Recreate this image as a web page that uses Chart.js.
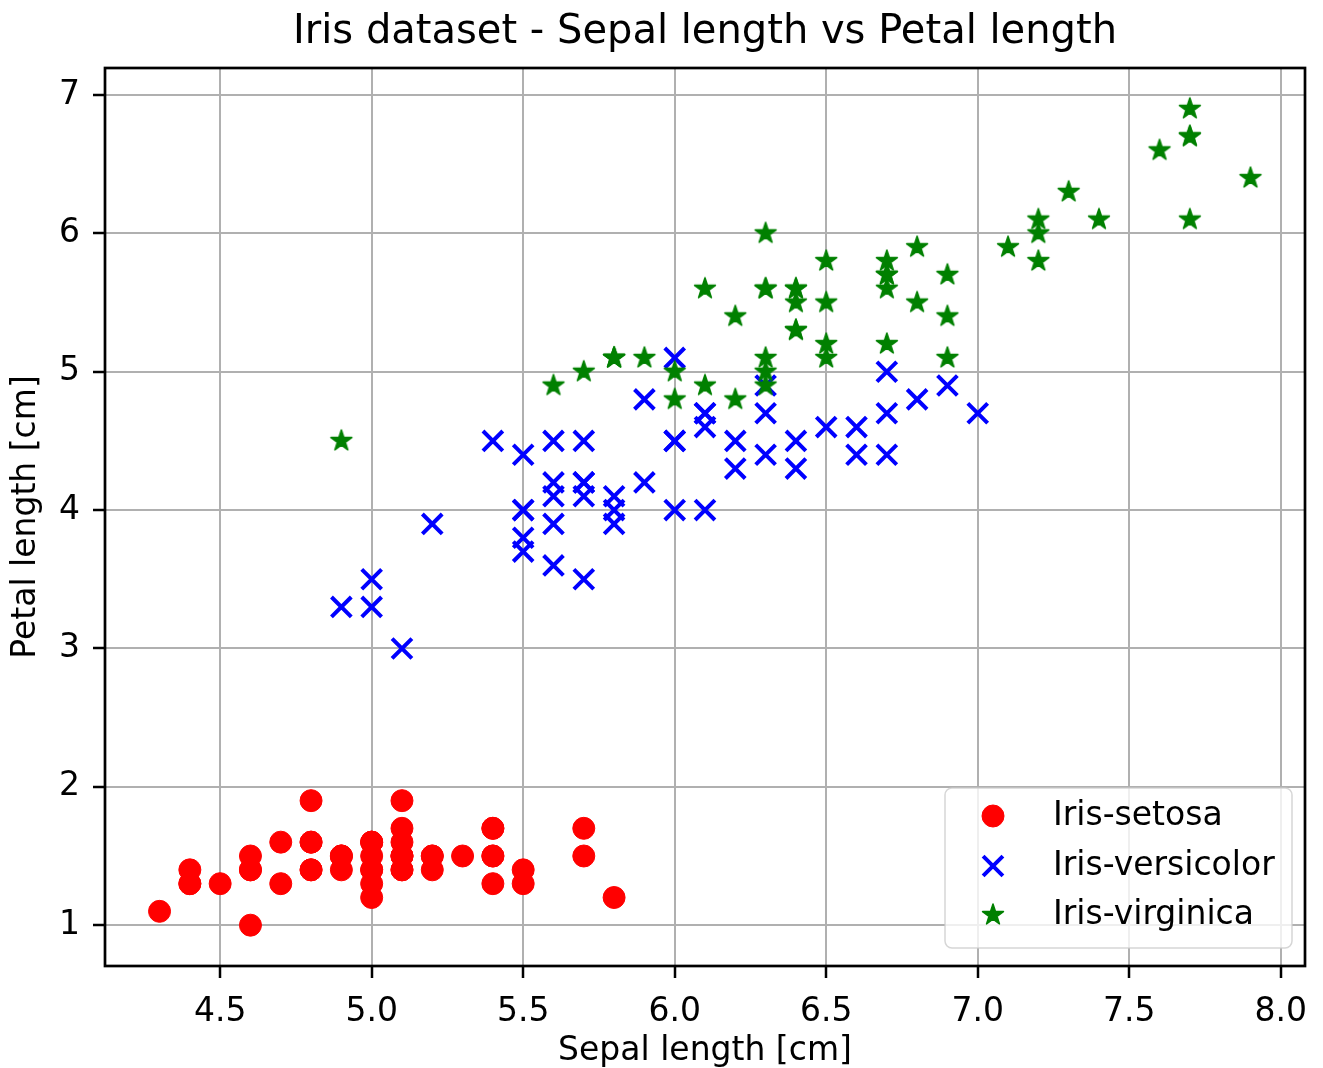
<!DOCTYPE html>
<html>
<head>
<meta charset="utf-8">
<title>Iris dataset - Sepal length vs Petal length</title>
<script src="https://cdn.jsdelivr.net/npm/chart.js@4.4.1/dist/chart.umd.min.js"></script>
<style>
  html, body { margin: 0; padding: 0; background: #fff; }
  canvas { display: block; }
</style>
</head>
<body>
<canvas id="irisChart" width="1323" height="1068"></canvas>
<script>
// Iris data: sepal length (x) and petal length (y) per class
const setosaX = [5.1, 4.9, 4.7, 4.6, 5.0, 5.4, 4.6, 5.0, 4.4, 4.9, 5.4, 4.8, 4.8, 4.3, 5.8, 5.7, 5.4, 5.1, 5.7, 5.1,
                 5.4, 5.1, 4.6, 5.1, 4.8, 5.0, 5.0, 5.2, 5.2, 4.7, 4.8, 5.4, 5.2, 5.5, 4.9, 5.0, 5.5, 4.9, 4.4, 5.1,
                 5.0, 4.5, 4.4, 5.0, 5.1, 4.8, 5.1, 4.6, 5.3, 5.0];
const setosaY = [1.4, 1.4, 1.3, 1.5, 1.4, 1.7, 1.4, 1.5, 1.4, 1.5, 1.5, 1.6, 1.4, 1.1, 1.2, 1.5, 1.3, 1.4, 1.7, 1.5,
                 1.7, 1.5, 1.0, 1.7, 1.9, 1.6, 1.6, 1.5, 1.4, 1.6, 1.6, 1.5, 1.5, 1.4, 1.5, 1.2, 1.3, 1.5, 1.3, 1.5,
                 1.3, 1.3, 1.3, 1.6, 1.9, 1.4, 1.6, 1.4, 1.5, 1.4];

const versicolorX = [7.0, 6.4, 6.9, 5.5, 6.5, 5.7, 6.3, 4.9, 6.6, 5.2, 5.0, 5.9, 6.0, 6.1, 5.6, 6.7, 5.6, 5.8, 6.2, 5.6,
                     5.9, 6.1, 6.3, 6.1, 6.4, 6.6, 6.8, 6.7, 6.0, 5.7, 5.5, 5.5, 5.8, 6.0, 5.4, 6.0, 6.7, 6.3, 5.6, 5.5,
                     5.5, 6.1, 5.8, 5.0, 5.6, 5.7, 5.7, 6.2, 5.1, 5.7];
const versicolorY = [4.7, 4.5, 4.9, 4.0, 4.6, 4.5, 4.7, 3.3, 4.6, 3.9, 3.5, 4.2, 4.0, 4.7, 3.6, 4.4, 4.5, 4.1, 4.5, 3.9,
                     4.8, 4.0, 4.9, 4.7, 4.3, 4.4, 4.8, 5.0, 4.5, 3.5, 3.8, 3.7, 3.9, 5.1, 4.5, 4.5, 4.7, 4.4, 4.1, 4.0,
                     4.4, 4.6, 4.0, 3.3, 4.2, 4.2, 4.2, 4.3, 3.0, 4.1];

const virginicaX = [6.3, 5.8, 7.1, 6.3, 6.5, 7.6, 4.9, 7.3, 6.7, 7.2, 6.5, 6.4, 6.8, 5.7, 5.8, 6.4, 6.5, 7.7, 7.7, 6.0,
                    6.9, 5.6, 7.7, 6.3, 6.7, 7.2, 6.2, 6.1, 6.4, 7.2, 7.4, 7.9, 6.4, 6.3, 6.1, 7.7, 6.3, 6.4, 6.0, 6.9,
                    6.7, 6.9, 5.8, 6.8, 6.7, 6.7, 6.3, 6.5, 6.2, 5.9];
const virginicaY = [6.0, 5.1, 5.9, 5.6, 5.8, 6.6, 4.5, 6.3, 5.8, 6.1, 5.1, 5.3, 5.5, 5.0, 5.1, 5.3, 5.5, 6.7, 6.9, 5.0,
                    5.7, 4.9, 6.7, 4.9, 5.7, 6.0, 4.8, 4.9, 5.6, 5.8, 6.1, 6.4, 5.6, 5.1, 5.6, 6.1, 5.6, 5.5, 4.8, 5.4,
                    5.6, 5.1, 5.1, 5.9, 5.7, 5.2, 5.0, 5.2, 5.4, 5.1];

const classNames = ['Iris-setosa', 'Iris-versicolor', 'Iris-virginica'];
const xTicks = [4.5, 5.0, 5.5, 6.0, 6.5, 7.0, 7.5, 8.0];
const yTicks = [1, 2, 3, 4, 5, 6, 7];

const FONT = 'DejaVu Sans';
Chart.defaults.font.family = FONT;
Chart.defaults.color = '#000';

function toPoints(xs, ys) {
    return xs.map((x, i) => ({ x: x, y: ys[i] }));
}

// filled five-point star, like matplotlib's '*' marker
function makeStar(color, outer) {
    const size = Math.ceil(outer * 2 + 4);
    const c = document.createElement('canvas');
    c.width = size;
    c.height = size;
    const g = c.getContext('2d');
    const inner = outer * 0.382;
    g.beginPath();
    for (let i = 0; i < 10; i++) {
        const r = i % 2 === 0 ? outer : inner;
        const a = -Math.PI / 2 + i * Math.PI / 5;
        const px = size / 2 + r * Math.cos(a);
        const py = size / 2 + r * Math.sin(a);
        if (i === 0) g.moveTo(px, py); else g.lineTo(px, py);
    }
    g.closePath();
    g.fillStyle = color;
    g.strokeStyle = color;
    g.lineWidth = 1.5;
    g.lineJoin = 'round';
    g.fill();
    g.stroke();
    return c;
}

const starImg = makeStar('#008000', 11);

// black frame around the plot area (all four spines)
const framePlugin = {
    id: 'frame',
    afterDatasetsDraw(chart) {
        const { ctx, chartArea: a } = chart;
        ctx.save();
        ctx.strokeStyle = '#000';
        ctx.lineWidth = 2.7;
        ctx.strokeRect(a.left, a.top, a.right - a.left, a.bottom - a.top);
        ctx.restore();
    }
};

// matplotlib-style legend box in the lower right of the plot area
const legendBoxPlugin = {
    id: 'legendBox',
    afterDraw(chart) {
        const ctx = chart.ctx;
        const box = { x: 945, y: 788, w: 347, h: 160, r: 7 };
        ctx.save();
        ctx.beginPath();
        ctx.roundRect(box.x, box.y, box.w, box.h, box.r);
        ctx.fillStyle = 'rgba(255,255,255,0.8)';
        ctx.fill();
        ctx.strokeStyle = 'rgba(204,204,204,0.8)';
        ctx.lineWidth = 1.5;
        ctx.stroke();

        const rowY = [816, 866, 915];
        chart.data.datasets.forEach((ds, i) => {
            const y = rowY[i];
            ctx.fillStyle = ds.backgroundColor;
            ctx.strokeStyle = ds.borderColor;
            ctx.lineWidth = ds.borderWidth;
            Chart.helpers.drawPoint(ctx, {
                pointStyle: ds.pointStyle,
                radius: ds.pointRadius,
                rotation: 0,
                borderWidth: ds.borderWidth
            }, 993, y);
            ctx.fillStyle = '#000';
            ctx.font = '33px "' + FONT + '"';
            ctx.textAlign = 'left';
            ctx.textBaseline = 'middle';
            ctx.fillText(ds.label, 1053, y);
        });
        ctx.restore();
    }
};

const ctx = document.getElementById('irisChart').getContext('2d');
new Chart(ctx, {
    type: 'scatter',
    data: {
        datasets: [
            {
                label: classNames[0],
                data: toPoints(setosaX, setosaY),
                pointStyle: 'circle',
                pointRadius: 11,
                borderWidth: 1,
                backgroundColor: '#ff0000',
                borderColor: '#ff0000',
                order: 2
            },
            {
                label: classNames[1],
                data: toPoints(versicolorX, versicolorY),
                pointStyle: 'crossRot',
                pointRadius: 14,
                borderWidth: 4,
                backgroundColor: '#0000ff',
                borderColor: '#0000ff',
                order: 1
            },
            {
                label: classNames[2],
                data: toPoints(virginicaX, virginicaY),
                pointStyle: starImg,
                pointRadius: 11,
                borderWidth: 0,
                backgroundColor: '#008000',
                borderColor: '#008000',
                order: 0
            }
        ]
    },
    options: {
        responsive: false,
        animation: false,
        layout: { padding: { left: 0, right: 15, top: 0, bottom: 0 } },
        elements: { point: { hoverRadius: 11 } },
        plugins: {
            legend: { display: false },
            tooltip: { enabled: false },
            title: {
                display: true,
                fullSize: false,
                text: 'Iris dataset - Sepal length vs Petal length',
                color: '#000',
                font: { size: 40, weight: 'normal', lineHeight: 1.2 },
                padding: { top: 9, bottom: 11 }
            }
        },
        scales: {
            x: {
                type: 'linear',
                min: 4.12,
                max: 8.08,
                afterBuildTicks: s => { s.ticks = xTicks.map(v => ({ value: v })); },
                afterFit: s => { s.height = 102; },
                ticks: {
                    callback: v => Number(v).toFixed(1),
                    font: { size: 33 },
                    color: '#000',
                    padding: 15,
                    maxRotation: 0,
                    autoSkip: false
                },
                grid: { color: '#b0b0b0', lineWidth: 2, tickColor: '#000', tickLength: 12, tickWidth: 2.5 },
                border: { display: false },
                title: {
                    display: true,
                    text: 'Sepal length [cm]',
                    color: '#000',
                    font: { size: 33, lineHeight: 1 },
                    padding: { top: 0, bottom: 0 }
                }
            },
            y: {
                type: 'linear',
                min: 0.705,
                max: 7.195,
                afterBuildTicks: s => { s.ticks = yTicks.map(v => ({ value: v })); },
                afterFit: s => { s.width = 105; },
                ticks: {
                    callback: v => String(v),
                    font: { size: 33 },
                    color: '#000',
                    padding: 13,
                    autoSkip: false
                },
                grid: { color: '#b0b0b0', lineWidth: 2, tickColor: '#000', tickLength: 12, tickWidth: 2.5 },
                border: { display: false },
                title: {
                    display: true,
                    text: 'Petal length [cm]',
                    color: '#000',
                    font: { size: 33, lineHeight: 1 },
                    padding: { top: 10, bottom: 0 }
                }
            }
        }
    },
    plugins: [framePlugin, legendBoxPlugin]
});
</script>
</body>
</html>
